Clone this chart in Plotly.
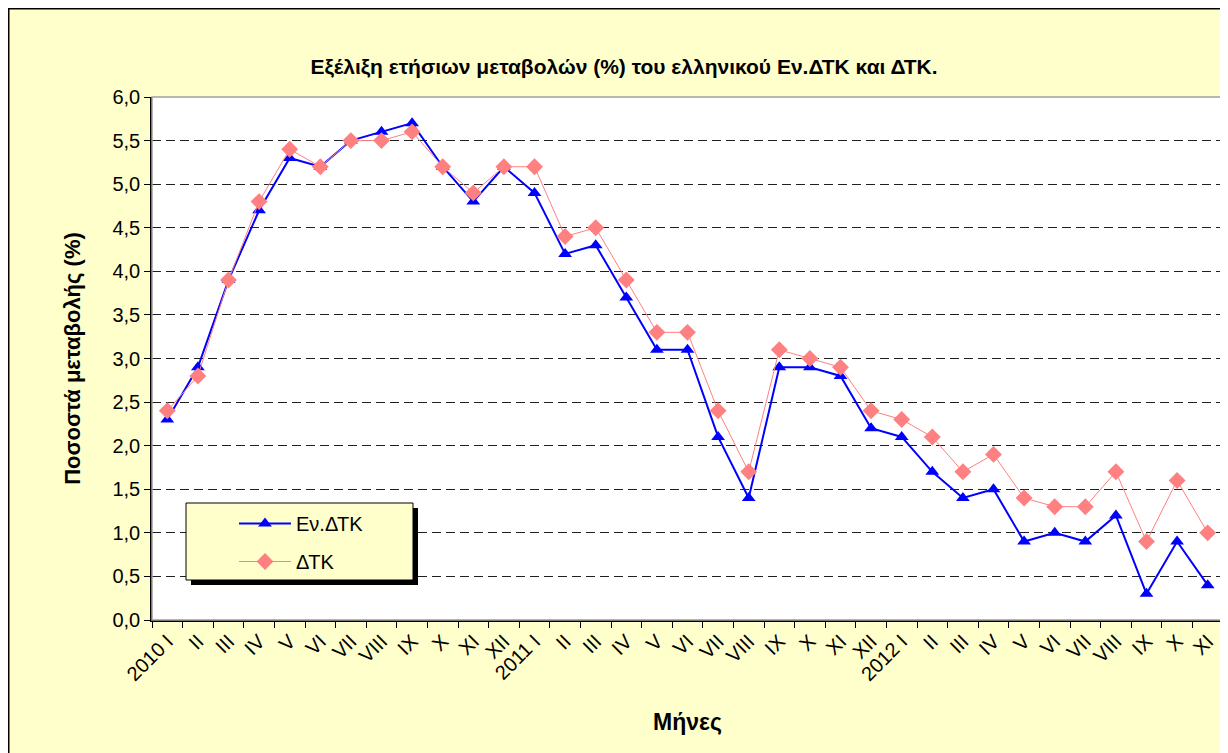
import plotly.graph_objects as go

months = ["I", "II", "III", "IV", "V", "VI", "VII", "VIII", "IX", "X", "XI", "XII"]
categories = (["2010 " + m if m == "I" else m for m in months]
              + ["2011 " + m if m == "I" else m for m in months]
              + ["2012 " + m if m == "I" else m for m in months[:11]])
cat_ids = [f"{y}-{i+1}" for y, n in ((2010, 12), (2011, 12), (2012, 11)) for i in range(n)]

ev_dtk = [2.3, 2.9, 3.9, 4.7, 5.3, 5.2, 5.5, 5.6, 5.7, 5.2, 4.8, 5.2,
          4.9, 4.2, 4.3, 3.7, 3.1, 3.1, 2.1, 1.4, 2.9, 2.9, 2.8, 2.2,
          2.1, 1.7, 1.4, 1.5, 0.9, 1.0, 0.9, 1.2, 0.3, 0.9, 0.4]
dtk = [2.4, 2.8, 3.9, 4.8, 5.4, 5.2, 5.5, 5.5, 5.6, 5.2, 4.9, 5.2,
       5.2, 4.4, 4.5, 3.9, 3.3, 3.3, 2.4, 1.7, 3.1, 3.0, 2.9, 2.4,
       2.3, 2.1, 1.7, 1.9, 1.4, 1.3, 1.3, 1.7, 0.9, 1.6, 1.0]

y_ticks = [i * 0.5 for i in range(13)]
y_labels = [f"{v:.1f}".replace(".", ",") for v in y_ticks]

title_text = "Εξέλιξη ετήσιων μεταβολών (%) του ελληνικού Εν.ΔΤΚ και ΔΤΚ."
y_title = "Ποσοστά μεταβολής (%)"
x_title = "Μήνες"

FONT = "Liberation Sans, Arial, sans-serif"
# page has an 8px body margin; figure coordinates below are page - 8
W, H = 1220, 745
L, R, T, B = 144, 5, 89, 133
pw, ph = W - L - R, H - T - B

def px(x):
    return (x - L) / pw

def py(y):
    return (H - B - y) / ph

fig = go.Figure()
fig.add_trace(go.Scatter(
    x=cat_ids, y=ev_dtk, name="Εν.ΔΤΚ", mode="lines+markers", legendgroup="a",
    line=dict(color="#0000FF", width=2),
    marker=dict(symbol="triangle-up", size=12, color="#0000FF"),
))
fig.add_trace(go.Scatter(
    x=cat_ids, y=dtk, name="ΔΤΚ", mode="lines+markers", legendgroup="b",
    line=dict(color="#FF8080", width=1),
    marker=dict(symbol="diamond", size=13, color="#FF8080"),
))

shapes = [
    # outer frame lines (left / top)
    dict(type="line", xref="paper", yref="paper", x0=px(0.75), x1=px(0.75), y0=py(0), y1=py(H + 5),
         line=dict(color="black", width=1.5)),
    dict(type="line", xref="paper", yref="paper", x0=px(0), x1=px(W + 5), y0=py(0.75), y1=py(0.75),
         line=dict(color="black", width=1.5)),
    # plot area border (gray)
    dict(type="rect", xref="paper", yref="paper", x0=0, x1=1, y0=0, y1=1,
         line=dict(color="#A0A0A0", width=1.5), fillcolor="rgba(0,0,0,0)"),
    # legend shadow and box
    dict(type="rect", xref="paper", yref="paper", x0=px(183), x1=px(410), y0=py(577), y1=py(500),
         fillcolor="black", line=dict(width=0)),
    dict(type="rect", xref="paper", yref="paper", x0=px(178), x1=px(405), y0=py(572), y1=py(495),
         fillcolor="#FFFFCC", line=dict(color="black", width=1)),
]

fig.update_layout(
    width=W, height=H,
    margin=dict(l=L, r=R, t=T, b=B),
    paper_bgcolor="#FFFFCC",
    plot_bgcolor="white",
    font=dict(family=FONT, size=20, color="black"),
    title=dict(text="<b>" + title_text + "</b>", x=616 / W, xanchor="center",
               y=1 - 59 / H, yanchor="middle", font=dict(size=21)),
    showlegend=True,
    legend=dict(x=px(226), y=py(496), xanchor="left", yanchor="top",
                bgcolor="rgba(0,0,0,0)", borderwidth=0,
                font=dict(size=20), itemwidth=52, tracegroupgap=9),
    shapes=shapes,
)

fig.update_xaxes(
    type="category", tickmode="array", tickvals=cat_ids, ticktext=categories,
    tickangle=-45, ticks="outside", ticklen=6, tickcolor="black", tickson="boundaries",
    showline=True, linecolor="black", linewidth=1.5, showgrid=False,
    tickfont=dict(size=20),
    title=dict(text="<b>" + x_title + "</b>", font=dict(size=23), standoff=30),
    range=[-0.5, len(cat_ids) - 0.5],
)
fig.update_yaxes(
    range=[0, 6], tickmode="array", tickvals=y_ticks, ticktext=y_labels,
    ticks="outside", ticklen=6, tickcolor="black",
    showline=True, linecolor="black", linewidth=1.5,
    showgrid=True, gridcolor="#202020", griddash="9px,5px", gridwidth=1,
    zeroline=False, tickfont=dict(size=20),
    title=dict(text="<b>" + y_title + "</b>", font=dict(size=22), standoff=26),
)

fig.write_html("out.html")
